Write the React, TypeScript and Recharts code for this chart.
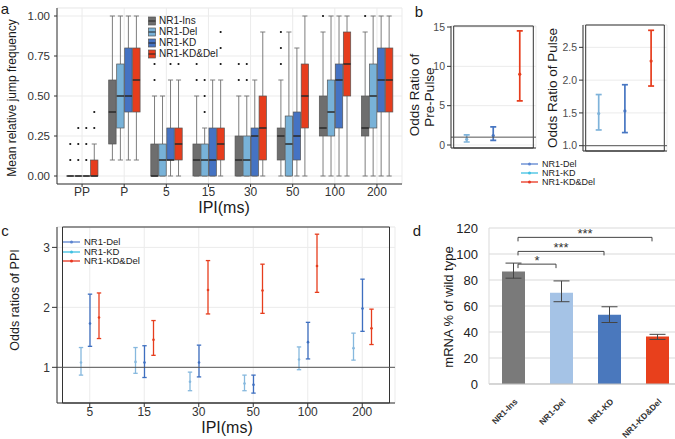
import React from "react";
import {
  ComposedChart,
  BarChart,
  Bar,
  XAxis,
  YAxis,
  CartesianGrid,
  ReferenceLine,
  ReferenceArea,
  ErrorBar,
  Cell,
} from "recharts";

const FONT = "'Liberation Sans', Arial, Helvetica, sans-serif";
const INK = "#1a1a1a";
const TICK = "#333333";
const GRID = "#ebebeb";
const GRID_MINOR = "#f5f5f5";

// ---------- a: jump frequency boxplots ----------
const ipiA = ["PP", "P", "5", "15", "30", "50", "100", "200"];
const aNames = ["NR1-Ins", "NR1-Del", "NR1-KD", "NR1-KD&Del"];
const aKeys = ["ins", "del", "kd", "kdd"];
const aColors = ["#6e6e6e", "#78b2d8", "#4573c3", "#e63d1d"];
// box = [lower whisker, q1, median, q3, upper whisker]
const insBox = [[0, 0, 0, 0, 0], [0.1, 0.2, 0.4, 0.6, 1], [0, 0, 0, 0.2, 0.5], [0, 0, 0.1, 0.2, 0.5], [0, 0, 0.1, 0.25, 0.5], [0, 0.1, 0.25, 0.3, 0.6], [0, 0.25, 0.3, 0.5, 0.9], [0, 0.25, 0.3, 0.5, 0.9]];
const delBox = [[0, 0, 0, 0, 0], [0.1, 0.3, 0.5, 0.7, 1], [0, 0, 0.1, 0.2, 0.5], [0, 0, 0.1, 0.2, 0.3], [0, 0, 0.1, 0.25, 0.5], [0, 0, 0.2, 0.375, 0.9], [0, 0.25, 0.4, 0.6, 1], [0, 0.3, 0.5, 0.7, 1]];
const kdBox = [[0, 0, 0, 0, 0], [0.1, 0.4, 0.5, 0.8, 1], [0, 0.1, 0.1, 0.3, 0.6], [0, 0, 0.1, 0.3, 0.6], [0, 0, 0.25, 0.3, 0.6], [0, 0.1, 0.25, 0.4, 0.8], [0, 0.3, 0.6, 0.7, 1], [0, 0.4, 0.6, 0.8, 1]];
const kddBox = [[0, 0, 0, 0.1, 0.2], [0.1, 0.4, 0.6, 0.8, 1], [0, 0.1, 0.2, 0.3, 0.6], [0, 0.1, 0.2, 0.3, 0.6], [0, 0.1, 0.3, 0.5, 0.9], [0, 0.3, 0.5, 0.7, 1], [0, 0.5, 0.7, 0.9, 1], [0, 0.4, 0.6, 0.8, 1]];
const insOut = [[0.1, 0.2], [], [0.6, 0.7], [0.6, 0.7], [0.6, 0.7], [0.7, 0.8, 0.9], [1], [1]];
const delOut = [[0.1, 0.2, 0.3], [], [], [0.4, 0.5, 0.6], [0.6, 0.7], [], [], []];
const kdOut = [[0.1, 0.2, 0.3], [], [0.7], [], [], [], [], []];
const kddOut = [[0.3, 0.4], [], [0.7], [0.7, 0.8, 0.9], [], [], [], []];
const aTicks = [0, 0.25, 0.5, 0.75, 1];
const aMinor = [0.125, 0.375, 0.625, 0.875];

// ---------- b: odds ratios pre-pulse / pulse ----------
const orCats = ["NR1-Del", "NR1-KD", "NR1-KD&Del"];
const orColors = ["#7fb3da", "#4776c2", "#e63d1d"];
const preOR = [0.72, 1.2, 9.0];
const preLo = [0.38, 0.6, 5.6];
const preHi = [1.3, 2.3, 14.5];
const pulseOR = [1.49, 1.53, 2.29];
const pulseLo = [1.24, 1.2, 1.91];
const pulseHi = [1.78, 1.93, 2.76];
const keyNames = ["NR1-Del", "NR1-KD", "NR1-KD&Del"];
const keyColors = ["#5b84d0", "#3fc0e2", "#e8351f"];

// ---------- c: odds ratios of PPI ----------
const ipiC = ["5", "15", "30", "50", "100", "200"];
const delOR = [1.08, 1.09, 0.76, 0.73, 1.13, 1.32];
const delLo = [0.87, 0.9, 0.61, 0.61, 0.96, 1.12];
const delHi = [1.33, 1.33, 0.92, 0.87, 1.34, 1.57];
const kdOR = [1.73, 1.08, 1.08, 0.71, 1.42, 1.98];
const kdLo = [1.35, 0.83, 0.84, 0.57, 1.14, 1.6];
const kdHi = [2.22, 1.36, 1.37, 0.87, 1.75, 2.47];
const kddOR = [1.83, 1.46, 2.29, 2.28, 2.69, 1.65];
const kddLo = [1.48, 1.2, 1.89, 1.9, 2.25, 1.38];
const kddHi = [2.24, 1.78, 2.78, 2.72, 3.22, 1.97];
const cColors = ["#86b8de", "#3e6fc0", "#e63d1d"];

// ---------- d: mRNA ----------
const genotypes = ["NR1-Ins", "NR1-Del", "NR1-KD", "NR1-KD&Del"];
const mrna = [86.5, 70.2, 53.2, 36.5];
const mrnaLo = [81.4, 63.3, 47.3, 34.3];
const mrnaHi = [93, 79.3, 59.4, 38.2];
const dColors = ["#7a7a7a", "#a5c3e6", "#4a78bd", "#e8401c"];
const sigTo = ["NR1-Del", "NR1-KD", "NR1-KD&Del"];
const sigY = [92.2, 102, 112.8];
const sigText = ["*", "***", "***"];

const boxes = [insBox, delBox, kdBox, kddBox];
const outs = [insOut, delOut, kdOut, kddOut];
const aRows = ipiA.map((ipi, i) => {
  const row: any = { ipi };
  aKeys.forEach((k, j) => (row[k] = { b: boxes[j][i], o: outs[j][i] }));
  return row;
});
const span = (s: any) => [Math.min(s.b[0], ...s.o), Math.max(s.b[4], ...s.o)];

const ci = (v: number[], lo: number[], hi: number[], i: number) => ({ v: v[i], lo: lo[i], hi: hi[i] });
const preRows = orCats.map((cat, i) => ({ cat, s: ci(preOR, preLo, preHi, i) }));
const pulseRows = orCats.map((cat, i) => ({ cat, s: ci(pulseOR, pulseLo, pulseHi, i) }));
const cRows = ipiC.map((ipi, i) => ({
  ipi,
  del: ci(delOR, delLo, delHi, i),
  kd: ci(kdOR, kdLo, kdHi, i),
  kdd: ci(kddOR, kddLo, kddHi, i),
}));
const dRows = genotypes.map((g, i) => ({ g, v: mrna[i], err: [mrna[i] - mrnaLo[i], mrnaHi[i] - mrna[i]] }));

function BoxShape(props: any) {
  const { x, y, width, height, payload, k, color } = props;
  const s = payload[k];
  const [lo, hi] = span(s);
  const py = (v: number) => (hi === lo ? y : y + (height * (hi - v)) / (hi - lo));
  const cx = x + width / 2;
  const cap = width * 0.32;
  const [w0, q1, md, q3, w1] = s.b;
  const wc = "#6f6f6f";
  return (
    <g>
      <line x1={cx} x2={cx} y1={py(w1)} y2={py(q3)} stroke={wc} strokeWidth={0.9} />
      <line x1={cx} x2={cx} y1={py(q1)} y2={py(w0)} stroke={wc} strokeWidth={0.9} />
      <line x1={cx - cap} x2={cx + cap} y1={py(w1)} y2={py(w1)} stroke={wc} strokeWidth={0.9} />
      <line x1={cx - cap} x2={cx + cap} y1={py(w0)} y2={py(w0)} stroke={wc} strokeWidth={0.9} />
      <rect x={x + 0.3} y={py(q3)} width={width - 0.6} height={Math.max(py(q1) - py(q3), 0)} fill={color} stroke="#555" strokeWidth={0.7} />
      <line x1={x + 0.3} x2={x + width - 0.3} y1={py(md)} y2={py(md)} stroke="#2a2a2a" strokeWidth={1.3} />
      {s.o.map((v: number, i: number) => (
        <circle key={i} cx={cx} cy={py(v)} r={1.1} fill="#111" />
      ))}
    </g>
  );
}

function CiShape(props: any) {
  const { x, y, width, height, payload, index, k, color, cap, sw, r } = props;
  const s = payload[k];
  const cx = x + width / 2;
  const cy = y + (height * (s.hi - s.v)) / (s.hi - s.lo);
  const col = Array.isArray(color) ? color[index] : color;
  return (
    <g>
      <line x1={cx} x2={cx} y1={y} y2={y + height} stroke={col} strokeWidth={sw} />
      <line x1={cx - cap} x2={cx + cap} y1={y} y2={y} stroke={col} strokeWidth={sw} />
      <line x1={cx - cap} x2={cx + cap} y1={y + height} y2={y + height} stroke={col} strokeWidth={sw} />
      <circle cx={cx} cy={cy} r={r} fill={col} />
    </g>
  );
}

function PanelA() {
  return (
    <ComposedChart width={410} height={222} data={aRows} margin={{ top: 8, right: 8, bottom: 0, left: 0 }} barCategoryGap="12.5%" barGap={0}>
      <CartesianGrid yAxisId="minor" vertical={false} stroke={GRID_MINOR} />
      <CartesianGrid stroke={GRID} />
      <XAxis dataKey="ipi" interval={0} padding={{ left: 4, right: 4 }} height={38} tickSize={3} tickMargin={0}
        axisLine={{ stroke: "#333" }} tickLine={{ stroke: "#333" }} tick={{ fontSize: 12, fill: TICK }} />
      <YAxis width={57} domain={[-0.05, 1.05]} allowDataOverflow ticks={aTicks} tickFormatter={(v: number) => v.toFixed(2)}
        tickSize={3} tickMargin={4} axisLine={{ stroke: "#333" }} tickLine={{ stroke: "#333" }} tick={{ fontSize: 11.5, fill: TICK }} />
      <YAxis yAxisId="minor" width={0} domain={[-0.05, 1.05]} allowDataOverflow ticks={aMinor} tick={false} axisLine={false} tickLine={false} />
      {aKeys.map((k, j) => (
        <Bar key={k} dataKey={(d: any) => span(d[k])} isAnimationActive={false}
          shape={(p: any) => <BoxShape {...p} k={k} color={aColors[j]} />} />
      ))}
    </ComposedChart>
  );
}

function OrChart(props: any) {
  const { rows, width, height, margin, yWidth, xHeight, domain, ticks, minor, fmt, pad } = props;
  return (
    <ComposedChart width={width} height={height} data={rows} margin={margin}>
      <CartesianGrid yAxisId="minor" vertical={false} stroke={GRID_MINOR} />
      <CartesianGrid stroke={GRID} />
      <XAxis dataKey="cat" padding={{ left: pad, right: pad }} height={xHeight} tick={false} tickSize={4}
        axisLine={{ stroke: "#333" }} tickLine={{ stroke: "#333" }} />
      <YAxis width={yWidth} domain={domain} allowDataOverflow ticks={ticks} tickFormatter={fmt} tickSize={4} tickMargin={2}
        axisLine={{ stroke: "#333" }} tickLine={{ stroke: "#333" }} tick={{ fontSize: 10.5, fill: "#4d4d4d" }} />
      <YAxis yAxisId="minor" width={0} domain={domain} allowDataOverflow ticks={minor} tick={false} axisLine={false} tickLine={false} />
      <ReferenceLine y={1} stroke="#555" strokeWidth={1} />
      <ReferenceArea y1={domain[0]} y2={domain[1]} fill="none" fillOpacity={0} stroke="#333" strokeWidth={1} ifOverflow="visible" />
      <Bar dataKey={(d: any) => [d.s.lo, d.s.hi]} barSize={6} isAnimationActive={false}
        shape={(p: any) => <CiShape {...p} k="s" color={orColors} cap={3} sw={1.7} r={1.6} />} />
    </ComposedChart>
  );
}

function PanelC() {
  const keys = ["del", "kd", "kdd"];
  return (
    <ComposedChart width={400} height={224} data={cRows} margin={{ top: 12, right: 5, bottom: 0, left: 0 }} barSize={9} barGap={0}>
      <CartesianGrid yAxisId="minor" vertical={false} stroke={GRID_MINOR} />
      <CartesianGrid stroke={GRID} />
      <XAxis dataKey="ipi" interval={0} padding={{ left: 5.5, right: 5.5 }} height={36} tickSize={4} tickMargin={0}
        axisLine={{ stroke: "#333" }} tickLine={{ stroke: "#333" }} tick={{ fontSize: 12, fill: TICK }} />
      <YAxis width={57} domain={[0.405, 3.34]} allowDataOverflow ticks={[1, 2, 3]} tickSize={5} tickMargin={2}
        axisLine={{ stroke: "#333" }} tickLine={{ stroke: "#333" }} tick={{ fontSize: 12, fill: TICK }} />
      <YAxis yAxisId="minor" width={0} domain={[0.405, 3.34]} allowDataOverflow ticks={[0.5, 1.5, 2.5]} tick={false} axisLine={false} tickLine={false} />
      <ReferenceLine y={1} stroke="#555" strokeWidth={1} />
      <ReferenceArea y1={0.405} y2={3.34} fill="none" fillOpacity={0} stroke="#333" strokeWidth={1} ifOverflow="visible" />
      {keys.map((k, j) => (
        <Bar key={k} dataKey={(d: any) => [d[k].lo, d[k].hi]} isAnimationActive={false}
          shape={(p: any) => <CiShape {...p} k={k} color={cColors[j]} cap={2.2} sw={1.3} r={1.3} />} />
      ))}
    </ComposedChart>
  );
}

function DTick(props: any) {
  const { x, y, payload } = props;
  return (
    <g transform={`translate(${x + 3},${y + 16}) rotate(-45)`}>
      <text textAnchor="end" dominantBaseline="central" fontSize={8.5} fontWeight={700} fill="#333">
        {payload.value}
      </text>
    </g>
  );
}

const bracket = (label: string) => (p: any) => {
  const a = p.x1 + 5;
  const b = p.x2 - 5;
  return (
    <g>
      <path d={`M${a},${p.y1 + 4}V${p.y1}H${b}V${p.y1 + 4}`} fill="none" stroke="#444" strokeWidth={1} />
      <text x={(a + b) / 2} y={p.y1 + 1} textAnchor="middle" fontSize={13} fill="#333">{label}</text>
    </g>
  );
};

function PanelD() {
  return (
    <BarChart width={261} height={224} data={dRows} margin={{ top: 13, right: 0, bottom: 0, left: 0 }} barSize={23}>
      <CartesianGrid vertical={false} stroke="#d9d9d9" />
      <XAxis dataKey="g" interval={0} height={55} tickLine={false} tickSize={0} tickMargin={0} axisLine={{ stroke: "#bfbfbf" }} tick={<DTick />} />
      <YAxis width={69} domain={[0, 120]} allowDataOverflow ticks={[0, 20, 40, 60, 80, 100, 120]} tickLine={false} tickSize={0} tickMargin={11}
        axisLine={{ stroke: "#d9d9d9" }} tick={{ fontSize: 13, fill: "#222" }} />
      <Bar dataKey="v" isAnimationActive={false}>
        {dRows.map((r, i) => (
          <Cell key={r.g} fill={dColors[i]} />
        ))}
        <ErrorBar dataKey="err" width={8} stroke="#444" strokeWidth={1} isAnimationActive={false} />
      </Bar>
      {sigTo.map((to, i) => (
        <ReferenceLine key={i} segment={[{ x: genotypes[0], y: sigY[i] }, { x: to, y: sigY[i] }]} shape={bracket(sigText[i])} />
      ))}
    </BarChart>
  );
}

function T({ x, y, size, rot, children }: any) {
  return (
    <div style={{ position: "absolute", left: x, top: y, transform: `translate(-50%,-50%)${rot ? " rotate(-90deg)" : ""}`, fontSize: size, whiteSpace: "nowrap", lineHeight: 1 }}>
      {children}
    </div>
  );
}

function LineKey({ x, y, gap, size }: any) {
  return (
    <div style={{ position: "absolute", left: x, top: y }}>
      {keyNames.map((n, i) => (
        <div key={n} style={{ position: "absolute", left: 0, top: i * gap - gap / 2, height: gap, lineHeight: 1, display: "flex", alignItems: "center", whiteSpace: "nowrap", fontSize: size, color: "#222" }}>
          <svg width={20} height={8} style={{ marginRight: 2 }}>
            <line x1={1} x2={18} y1={4} y2={4} stroke={keyColors[i]} strokeWidth={1.3} />
            <circle cx={9.5} cy={4} r={1.5} fill={keyColors[i]} />
          </svg>
          {n}
        </div>
      ))}
    </div>
  );
}

function BoxKey() {
  return (
    <div style={{ position: "absolute", left: 147, top: 21 }}>
      {aNames.map((n, i) => (
        <div key={n} style={{ position: "absolute", left: 0, top: i * 11 - 5, height: 10, lineHeight: 1, display: "flex", alignItems: "center", whiteSpace: "nowrap", fontSize: 10, color: "#222" }}>
          <svg width={11} height={10} style={{ marginRight: 1 }}>
            <rect x={1.5} y={1} width={7} height={8} fill={aColors[i]} stroke="#555" strokeWidth={0.7} />
            <line x1={1.5} x2={8.5} y1={5} y2={5} stroke="#222" strokeWidth={1} />
          </svg>
          {n}
        </div>
      ))}
    </div>
  );
}

export default function App() {
  return (
    <div style={{ position: "absolute", left: 0, top: 0, width: 675, height: 439, overflow: "hidden", background: "#fff", fontFamily: FONT, color: INK }}>
      <div style={{ position: "absolute", left: 0, top: 0 }}><PanelA /></div>
      <div style={{ position: "absolute", left: 400, top: 0 }}>
        <OrChart rows={preRows} width={140} height={165} margin={{ top: 26, right: 4, bottom: 0, left: 0 }} yWidth={51} xHeight={17}
          domain={[-0.38, 15.13]} ticks={[0, 5, 10, 15]} minor={[2.5, 7.5, 12.5]} fmt={(v: number) => String(v)} pad={2.7} />
      </div>
      <div style={{ position: "absolute", left: 530, top: 0 }}>
        <OrChart rows={pulseRows} width={140} height={165} margin={{ top: 25, right: 3, bottom: 0, left: 0 }} yWidth={53} xHeight={14}
          domain={[0.919, 2.841]} ticks={[1, 1.5, 2, 2.5]} minor={[1.25, 1.75, 2.25, 2.75]} fmt={(v: number) => v.toFixed(1)} pad={2.7} />
      </div>
      <div style={{ position: "absolute", left: 0, top: 215 }}><PanelC /></div>
      <div style={{ position: "absolute", left: 420, top: 215 }}><PanelD /></div>

      <BoxKey />
      <LineKey x={520} y={164} gap={9} size={9} />
      <LineKey x={62} y={242} gap={9.5} size={9.5} />

      <T x={5} y={8} size={15}>a</T>
      <T x={419} y={11} size={15}>b</T>
      <T x={5} y={230} size={15}>c</T>
      <T x={417} y={230} size={15}>d</T>

      <T x={12} y={98} size={12} rot>Mean relative jump frequency</T>
      <T x={224} y={208} size={16}>IPI(ms)</T>
      <T x={415} y={95} size={13.5} rot>Odds Ratio of</T>
      <T x={430} y={97} size={13.5} rot>Pre-Pulse</T>
      <T x={553} y={88} size={13.5} rot>Odds Ratio of Pulse</T>
      <T x={15} y={300} size={12.5} rot>Odds ratios of PPI</T>
      <T x={227} y={428} size={16}>IPI(ms)</T>
      <T x={448} y={307} size={13} rot>mRNA % of wild type</T>
    </div>
  );
}
